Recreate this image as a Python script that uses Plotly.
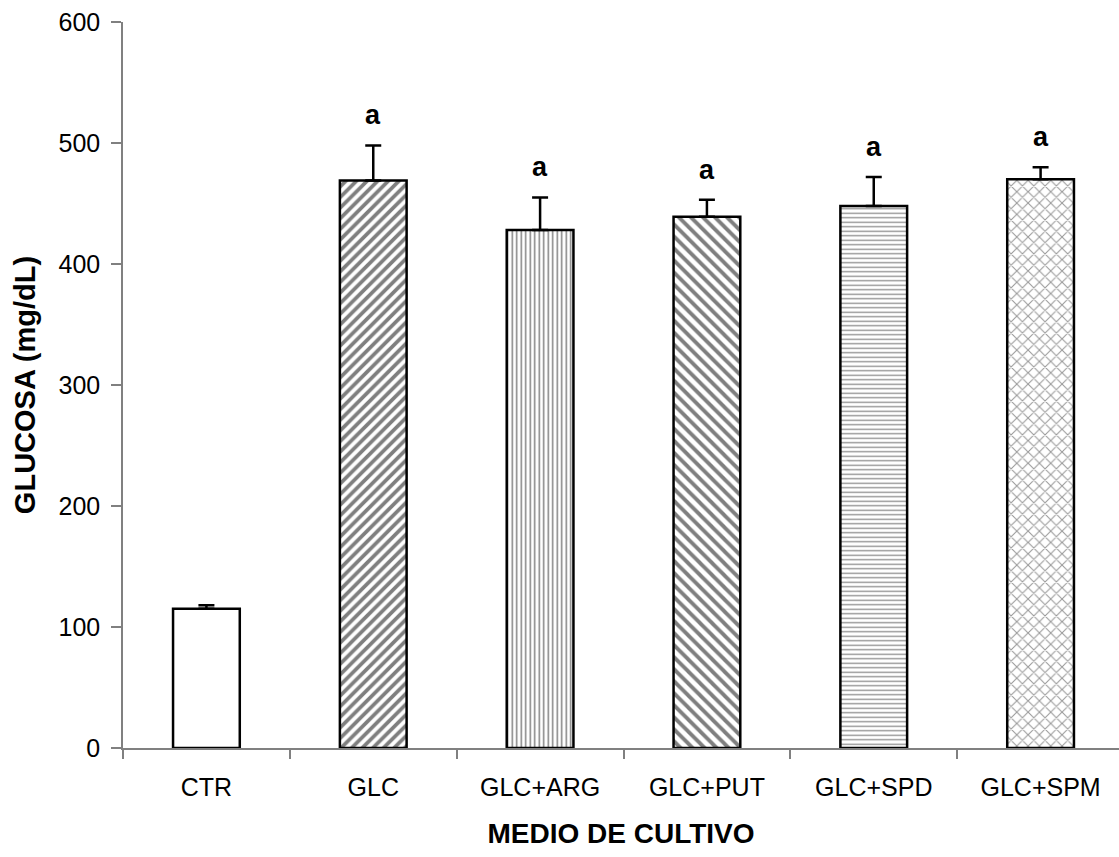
import plotly.graph_objects as go

categories = ["CTR", "GLC", "GLC+ARG", "GLC+PUT", "GLC+SPD", "GLC+SPM"]
glucosa = [115, 469, 428, 439, 448, 470]
error_up = [3, 29, 27, 14, 24, 10]
letters = ["", "a", "a", "a", "a", "a"]
y_ticks = [0, 100, 200, 300, 400, 500, 600]

shapes = ["", "/", "|", "\\", "-", "x"]
sizes = [8, 7.5, 4.5, 8.5, 4.5, 8]
solid = [0.3, 0.5, 0.33, 0.45, 0.3, 0.25]
fgcols = ["black", "black", "black", "black", "#222222", "#333333"]

FONT = "Liberation Sans, Arial, sans-serif"

fig = go.Figure()
fig.add_trace(go.Bar(
    x=categories, y=glucosa, width=0.4,
    marker=dict(color="white", line=dict(color="black", width=2.5),
                pattern=dict(shape=shapes, size=sizes, solidity=solid,
                             fgcolor=fgcols, bgcolor="white", fillmode="overlay")),
    error_y=dict(type="data", symmetric=False, array=error_up,
                 arrayminus=[0]*len(error_up), color="black", thickness=2.5, width=8),
    showlegend=False,
))

for c, v, e, t in zip(categories, glucosa, error_up, letters):
    if t:
        fig.add_annotation(x=c, y=v + e, text="<b>" + t + "</b>", showarrow=False,
                           yshift=30, font=dict(family=FONT, size=27, color="black"))

fig.update_layout(
    width=1119, height=857,
    margin=dict(l=123, r=0, t=22, b=109),
    plot_bgcolor="white", paper_bgcolor="white",
    font=dict(family=FONT, size=25, color="black"),
    xaxis=dict(range=[-0.5, 5.47], showline=True, linecolor="#808080", linewidth=1.5,
               ticks="outside", tickson="boundaries", ticklen=9, tickcolor="#808080",
               tickwidth=1.5, ticklabelstandoff=16,
               tickfont=dict(size=25),
               title=dict(text="<b>MEDIO DE CULTIVO</b>", font=dict(size=28), standoff=24),
               showgrid=False, zeroline=False, automargin=False),
    yaxis=dict(range=[0, 600], tickvals=y_ticks, showline=True, linecolor="#808080",
               linewidth=1.5, ticks="outside", ticklen=10, tickcolor="#808080",
               tickwidth=1.5, ticklabelstandoff=6,
               tickfont=dict(size=25),
               title=dict(text="<b>GLUCOSA (mg/dL)</b>", font=dict(size=29), standoff=14),
               showgrid=False, zeroline=False, automargin=False),
)

fig.write_html("out.html")
